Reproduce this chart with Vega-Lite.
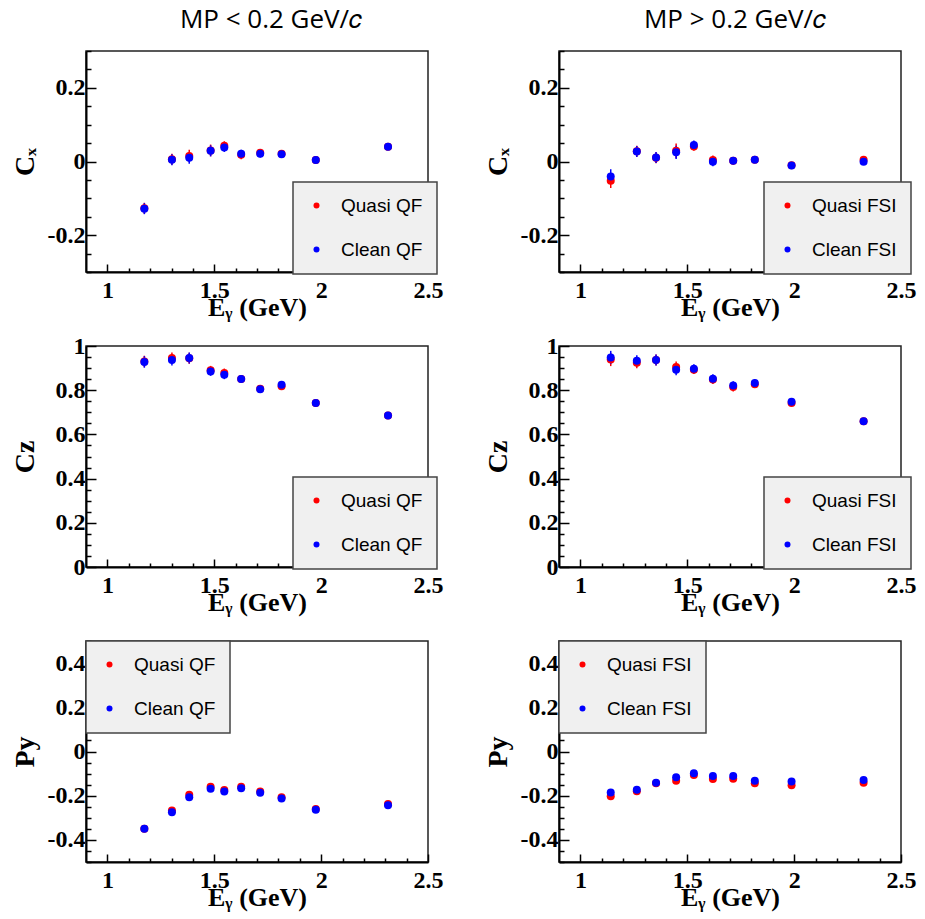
{
  "$schema": "https://vega.github.io/schema/vega-lite/v6.json",
  "autosize": {"type": "none"},
  "padding": {"left": 86, "top": 51, "right": 839, "bottom": 868},
  "background": "white",
  "datasets": {
    "cxL": [
      {"E": 1.173, "v": -0.127, "err": 0.015, "s": "Quasi QF"},
      {"E": 1.302, "v": 0.006, "err": 0.015, "s": "Quasi QF"},
      {"E": 1.383, "v": 0.015, "err": 0.017, "s": "Quasi QF"},
      {"E": 1.483, "v": 0.030, "err": 0.016, "s": "Quasi QF"},
      {"E": 1.547, "v": 0.043, "err": 0.012, "s": "Quasi QF"},
      {"E": 1.626, "v": 0.018, "err": 0.012, "s": "Quasi QF"},
      {"E": 1.715, "v": 0.024, "err": 0.010, "s": "Quasi QF"},
      {"E": 1.815, "v": 0.021, "err": 0.010, "s": "Quasi QF"},
      {"E": 1.975, "v": 0.004, "err": 0.007, "s": "Quasi QF"},
      {"E": 2.313, "v": 0.040, "err": 0.007, "s": "Quasi QF"},
      {"E": 1.173, "v": -0.128, "err": 0.015, "s": "Clean QF"},
      {"E": 1.302, "v": 0.005, "err": 0.015, "s": "Clean QF"},
      {"E": 1.383, "v": 0.010, "err": 0.016, "s": "Clean QF"},
      {"E": 1.483, "v": 0.029, "err": 0.015, "s": "Clean QF"},
      {"E": 1.547, "v": 0.038, "err": 0.012, "s": "Clean QF"},
      {"E": 1.626, "v": 0.021, "err": 0.011, "s": "Clean QF"},
      {"E": 1.715, "v": 0.021, "err": 0.010, "s": "Clean QF"},
      {"E": 1.815, "v": 0.020, "err": 0.010, "s": "Clean QF"},
      {"E": 1.975, "v": 0.004, "err": 0.007, "s": "Clean QF"},
      {"E": 2.313, "v": 0.040, "err": 0.007, "s": "Clean QF"}
    ],
    "cxR": [
      {"E": 1.142, "v": -0.052, "err": 0.020, "s": "Quasi FSI"},
      {"E": 1.264, "v": 0.028, "err": 0.015, "s": "Quasi FSI"},
      {"E": 1.354, "v": 0.010, "err": 0.015, "s": "Quasi FSI"},
      {"E": 1.448, "v": 0.029, "err": 0.020, "s": "Quasi FSI"},
      {"E": 1.531, "v": 0.041, "err": 0.012, "s": "Quasi FSI"},
      {"E": 1.620, "v": 0.004, "err": 0.012, "s": "Quasi FSI"},
      {"E": 1.715, "v": 0.002, "err": 0.010, "s": "Quasi FSI"},
      {"E": 1.816, "v": 0.005, "err": 0.008, "s": "Quasi FSI"},
      {"E": 1.988, "v": -0.010, "err": 0.006, "s": "Quasi FSI"},
      {"E": 2.325, "v": 0.005, "err": 0.006, "s": "Quasi FSI"},
      {"E": 1.142, "v": -0.041, "err": 0.020, "s": "Clean FSI"},
      {"E": 1.264, "v": 0.027, "err": 0.015, "s": "Clean FSI"},
      {"E": 1.354, "v": 0.011, "err": 0.015, "s": "Clean FSI"},
      {"E": 1.448, "v": 0.025, "err": 0.018, "s": "Clean FSI"},
      {"E": 1.531, "v": 0.045, "err": 0.012, "s": "Clean FSI"},
      {"E": 1.620, "v": -0.001, "err": 0.012, "s": "Clean FSI"},
      {"E": 1.715, "v": 0.002, "err": 0.010, "s": "Clean FSI"},
      {"E": 1.816, "v": 0.005, "err": 0.008, "s": "Clean FSI"},
      {"E": 1.988, "v": -0.011, "err": 0.006, "s": "Clean FSI"},
      {"E": 2.325, "v": -0.001, "err": 0.006, "s": "Clean FSI"}
    ],
    "czL": [
      {"E": 1.173, "v": 0.930, "err": 0.026, "s": "Quasi QF"},
      {"E": 1.302, "v": 0.946, "err": 0.025, "s": "Quasi QF"},
      {"E": 1.383, "v": 0.945, "err": 0.025, "s": "Quasi QF"},
      {"E": 1.483, "v": 0.890, "err": 0.020, "s": "Quasi QF"},
      {"E": 1.547, "v": 0.878, "err": 0.020, "s": "Quasi QF"},
      {"E": 1.626, "v": 0.851, "err": 0.017, "s": "Quasi QF"},
      {"E": 1.715, "v": 0.806, "err": 0.015, "s": "Quasi QF"},
      {"E": 1.815, "v": 0.818, "err": 0.015, "s": "Quasi QF"},
      {"E": 1.975, "v": 0.742, "err": 0.012, "s": "Quasi QF"},
      {"E": 2.313, "v": 0.686, "err": 0.008, "s": "Quasi QF"},
      {"E": 1.173, "v": 0.928, "err": 0.026, "s": "Clean QF"},
      {"E": 1.302, "v": 0.937, "err": 0.025, "s": "Clean QF"},
      {"E": 1.383, "v": 0.946, "err": 0.025, "s": "Clean QF"},
      {"E": 1.483, "v": 0.885, "err": 0.020, "s": "Clean QF"},
      {"E": 1.547, "v": 0.870, "err": 0.020, "s": "Clean QF"},
      {"E": 1.626, "v": 0.851, "err": 0.017, "s": "Clean QF"},
      {"E": 1.715, "v": 0.804, "err": 0.015, "s": "Clean QF"},
      {"E": 1.815, "v": 0.825, "err": 0.015, "s": "Clean QF"},
      {"E": 1.975, "v": 0.742, "err": 0.012, "s": "Clean QF"},
      {"E": 2.313, "v": 0.685, "err": 0.008, "s": "Clean QF"}
    ],
    "czR": [
      {"E": 1.142, "v": 0.939, "err": 0.030, "s": "Quasi FSI"},
      {"E": 1.264, "v": 0.924, "err": 0.025, "s": "Quasi FSI"},
      {"E": 1.354, "v": 0.937, "err": 0.025, "s": "Quasi FSI"},
      {"E": 1.448, "v": 0.905, "err": 0.025, "s": "Quasi FSI"},
      {"E": 1.531, "v": 0.893, "err": 0.020, "s": "Quasi FSI"},
      {"E": 1.620, "v": 0.848, "err": 0.020, "s": "Quasi FSI"},
      {"E": 1.715, "v": 0.814, "err": 0.020, "s": "Quasi FSI"},
      {"E": 1.816, "v": 0.827, "err": 0.017, "s": "Quasi FSI"},
      {"E": 1.988, "v": 0.742, "err": 0.012, "s": "Quasi FSI"},
      {"E": 2.325, "v": 0.659, "err": 0.008, "s": "Quasi FSI"},
      {"E": 1.142, "v": 0.948, "err": 0.030, "s": "Clean FSI"},
      {"E": 1.264, "v": 0.933, "err": 0.025, "s": "Clean FSI"},
      {"E": 1.354, "v": 0.937, "err": 0.025, "s": "Clean FSI"},
      {"E": 1.448, "v": 0.893, "err": 0.025, "s": "Clean FSI"},
      {"E": 1.531, "v": 0.897, "err": 0.020, "s": "Clean FSI"},
      {"E": 1.620, "v": 0.852, "err": 0.020, "s": "Clean FSI"},
      {"E": 1.715, "v": 0.821, "err": 0.020, "s": "Clean FSI"},
      {"E": 1.816, "v": 0.833, "err": 0.017, "s": "Clean FSI"},
      {"E": 1.988, "v": 0.748, "err": 0.012, "s": "Clean FSI"},
      {"E": 2.325, "v": 0.659, "err": 0.008, "s": "Clean FSI"}
    ],
    "pyL": [
      {"E": 1.173, "v": -0.350, "err": 0.008, "s": "Quasi QF"},
      {"E": 1.302, "v": -0.267, "err": 0.008, "s": "Quasi QF"},
      {"E": 1.383, "v": -0.196, "err": 0.008, "s": "Quasi QF"},
      {"E": 1.483, "v": -0.160, "err": 0.008, "s": "Quasi QF"},
      {"E": 1.547, "v": -0.174, "err": 0.008, "s": "Quasi QF"},
      {"E": 1.626, "v": -0.160, "err": 0.008, "s": "Quasi QF"},
      {"E": 1.715, "v": -0.181, "err": 0.008, "s": "Quasi QF"},
      {"E": 1.815, "v": -0.207, "err": 0.008, "s": "Quasi QF"},
      {"E": 1.975, "v": -0.260, "err": 0.006, "s": "Quasi QF"},
      {"E": 2.313, "v": -0.237, "err": 0.006, "s": "Quasi QF"},
      {"E": 1.173, "v": -0.350, "err": 0.008, "s": "Clean QF"},
      {"E": 1.302, "v": -0.275, "err": 0.008, "s": "Clean QF"},
      {"E": 1.383, "v": -0.207, "err": 0.008, "s": "Clean QF"},
      {"E": 1.483, "v": -0.169, "err": 0.008, "s": "Clean QF"},
      {"E": 1.547, "v": -0.181, "err": 0.008, "s": "Clean QF"},
      {"E": 1.626, "v": -0.166, "err": 0.008, "s": "Clean QF"},
      {"E": 1.715, "v": -0.187, "err": 0.008, "s": "Clean QF"},
      {"E": 1.815, "v": -0.213, "err": 0.008, "s": "Clean QF"},
      {"E": 1.975, "v": -0.264, "err": 0.006, "s": "Clean QF"},
      {"E": 2.313, "v": -0.243, "err": 0.006, "s": "Clean QF"}
    ],
    "pyR": [
      {"E": 1.142, "v": -0.203, "err": 0.015, "s": "Quasi FSI"},
      {"E": 1.264, "v": -0.180, "err": 0.012, "s": "Quasi FSI"},
      {"E": 1.354, "v": -0.144, "err": 0.010, "s": "Quasi FSI"},
      {"E": 1.448, "v": -0.132, "err": 0.015, "s": "Quasi FSI"},
      {"E": 1.531, "v": -0.106, "err": 0.010, "s": "Quasi FSI"},
      {"E": 1.620, "v": -0.124, "err": 0.010, "s": "Quasi FSI"},
      {"E": 1.715, "v": -0.123, "err": 0.010, "s": "Quasi FSI"},
      {"E": 1.816, "v": -0.144, "err": 0.010, "s": "Quasi FSI"},
      {"E": 1.988, "v": -0.153, "err": 0.008, "s": "Quasi FSI"},
      {"E": 2.325, "v": -0.141, "err": 0.008, "s": "Quasi FSI"},
      {"E": 1.142, "v": -0.185, "err": 0.015, "s": "Clean FSI"},
      {"E": 1.264, "v": -0.173, "err": 0.012, "s": "Clean FSI"},
      {"E": 1.354, "v": -0.141, "err": 0.010, "s": "Clean FSI"},
      {"E": 1.448, "v": -0.117, "err": 0.015, "s": "Clean FSI"},
      {"E": 1.531, "v": -0.098, "err": 0.010, "s": "Clean FSI"},
      {"E": 1.620, "v": -0.111, "err": 0.010, "s": "Clean FSI"},
      {"E": 1.715, "v": -0.111, "err": 0.010, "s": "Clean FSI"},
      {"E": 1.816, "v": -0.132, "err": 0.010, "s": "Clean FSI"},
      {"E": 1.988, "v": -0.136, "err": 0.008, "s": "Clean FSI"},
      {"E": 2.325, "v": -0.129, "err": 0.008, "s": "Clean FSI"}
    ]
  },
  "columns": 2,
  "spacing": {"row": 74, "column": 131},
  "bounds": "flush",
  "resolve": {"scale": {"x": "independent", "y": "independent", "color": "independent"}, "legend": {"color": "independent"}},
  "concat": [
    {
      "width": 342, "height": 221,
      "data": {"name": "cxL"},
      "title": {"text": "MP < 0.2 GeV/𝑐", "dx": 14},
      "encoding": {
        "x": {"field": "E", "type": "quantitative", "scale": {"domain": [0.9, 2.5], "nice": false, "zero": false},
          "axis": {"title": "Eᵧ (GeV)", "values": [1, 1.1, 1.2, 1.3, 1.4, 1.5, 1.6, 1.7, 1.8, 1.9, 2, 2.1, 2.2, 2.3, 2.4, 2.5],
            "labelExpr": "indexof([1,1.5,2,2.5], datum.value) >= 0 ? '' + datum.value : ''",
            "tickSize": {"condition": {"test": "indexof([1,1.5,2,2.5], datum.value) >= 0", "value": -8}, "value": -4},
            "labelPadding": 14, "titleX": 171, "titleY": 43, "titleBaseline": "alphabetic"}},
        "y": {"field": "v", "type": "quantitative", "scale": {"domain": [-0.3, 0.3], "nice": false, "zero": false},
          "axis": {"title": "Cₓ", "titleFontSize": 28, "values": [-0.3, -0.25, -0.2, -0.15, -0.1, -0.05, 0, 0.05, 0.1, 0.15, 0.2, 0.25, 0.3],
            "labelExpr": "indexof([-0.2,0,0.2], datum.value) >= 0 ? '' + datum.value : ''",
            "tickSize": {"condition": {"test": "indexof([-0.2,0,0.2], datum.value) >= 0", "value": -10}, "value": -5},
            "labelPadding": 11, "titleX": -53, "titleY": 110.5, "titleBaseline": "alphabetic"}},
        "color": {"field": "s", "type": "nominal", "scale": {"domain": ["Quasi QF", "Clean QF"], "range": ["#ff0000", "#0000ff"]},
          "legend": {"orient": "none", "legendX": 207, "legendY": 131}}
      },
      "layer": [
        {"mark": {"type": "errorbar", "ticks": false, "thickness": 1.5}, "encoding": {"yError": {"field": "err"}}},
        {"mark": {"type": "circle", "size": 64, "opacity": 1}}
      ]
    },
    {
      "width": 342, "height": 221,
      "data": {"name": "cxR"},
      "title": {"text": "MP > 0.2 GeV/𝑐", "dx": 5},
      "encoding": {
        "x": {"field": "E", "type": "quantitative", "scale": {"domain": [0.9, 2.5], "nice": false, "zero": false},
          "axis": {"title": "Eᵧ (GeV)", "values": [1, 1.1, 1.2, 1.3, 1.4, 1.5, 1.6, 1.7, 1.8, 1.9, 2, 2.1, 2.2, 2.3, 2.4, 2.5],
            "labelExpr": "indexof([1,1.5,2,2.5], datum.value) >= 0 ? '' + datum.value : ''",
            "tickSize": {"condition": {"test": "indexof([1,1.5,2,2.5], datum.value) >= 0", "value": -8}, "value": -4},
            "labelPadding": 14, "titleX": 171, "titleY": 43, "titleBaseline": "alphabetic"}},
        "y": {"field": "v", "type": "quantitative", "scale": {"domain": [-0.3, 0.3], "nice": false, "zero": false},
          "axis": {"title": "Cₓ", "titleFontSize": 28, "values": [-0.3, -0.25, -0.2, -0.15, -0.1, -0.05, 0, 0.05, 0.1, 0.15, 0.2, 0.25, 0.3],
            "labelExpr": "indexof([-0.2,0,0.2], datum.value) >= 0 ? '' + datum.value : ''",
            "tickSize": {"condition": {"test": "indexof([-0.2,0,0.2], datum.value) >= 0", "value": -10}, "value": -5},
            "labelPadding": 11, "titleX": -53, "titleY": 110.5, "titleBaseline": "alphabetic"}},
        "color": {"field": "s", "type": "nominal", "scale": {"domain": ["Quasi FSI", "Clean FSI"], "range": ["#ff0000", "#0000ff"]},
          "legend": {"orient": "none", "legendX": 205, "legendY": 131}}
      },
      "layer": [
        {"mark": {"type": "errorbar", "ticks": false, "thickness": 1.5}, "encoding": {"yError": {"field": "err"}}},
        {"mark": {"type": "circle", "size": 64, "opacity": 1}}
      ]
    },
    {
      "width": 342, "height": 221,
      "data": {"name": "czL"},
      "encoding": {
        "x": {"field": "E", "type": "quantitative", "scale": {"domain": [0.9, 2.5], "nice": false, "zero": false},
          "axis": {"title": "Eᵧ (GeV)", "values": [1, 1.1, 1.2, 1.3, 1.4, 1.5, 1.6, 1.7, 1.8, 1.9, 2, 2.1, 2.2, 2.3, 2.4, 2.5],
            "labelExpr": "indexof([1,1.5,2,2.5], datum.value) >= 0 ? '' + datum.value : ''",
            "tickSize": {"condition": {"test": "indexof([1,1.5,2,2.5], datum.value) >= 0", "value": -8}, "value": -4},
            "labelPadding": 14, "titleX": 171, "titleY": 43, "titleBaseline": "alphabetic"}},
        "y": {"field": "v", "type": "quantitative", "scale": {"domain": [0, 1], "nice": false, "zero": false},
          "axis": {"title": "Cz", "titleFontSize": 28, "values": [0, 0.05, 0.1, 0.15, 0.2, 0.25, 0.3, 0.35, 0.4, 0.45, 0.5, 0.55, 0.6, 0.65, 0.7, 0.75, 0.8, 0.85, 0.9, 0.95, 1],
            "labelExpr": "indexof([0,0.2,0.4,0.6,0.8,1], datum.value) >= 0 ? '' + datum.value : ''",
            "tickSize": {"condition": {"test": "indexof([0,0.2,0.4,0.6,0.8,1], datum.value) >= 0", "value": -10}, "value": -5},
            "labelPadding": 11, "titleX": -53, "titleY": 110.5, "titleBaseline": "alphabetic"}},
        "color": {"field": "s", "type": "nominal", "scale": {"domain": ["Quasi QF", "Clean QF"], "range": ["#ff0000", "#0000ff"]},
          "legend": {"orient": "none", "legendX": 207, "legendY": 131}}
      },
      "layer": [
        {"mark": {"type": "errorbar", "ticks": false, "thickness": 1.5}, "encoding": {"yError": {"field": "err"}}},
        {"mark": {"type": "circle", "size": 64, "opacity": 1}}
      ]
    },
    {
      "width": 342, "height": 221,
      "data": {"name": "czR"},
      "encoding": {
        "x": {"field": "E", "type": "quantitative", "scale": {"domain": [0.9, 2.5], "nice": false, "zero": false},
          "axis": {"title": "Eᵧ (GeV)", "values": [1, 1.1, 1.2, 1.3, 1.4, 1.5, 1.6, 1.7, 1.8, 1.9, 2, 2.1, 2.2, 2.3, 2.4, 2.5],
            "labelExpr": "indexof([1,1.5,2,2.5], datum.value) >= 0 ? '' + datum.value : ''",
            "tickSize": {"condition": {"test": "indexof([1,1.5,2,2.5], datum.value) >= 0", "value": -8}, "value": -4},
            "labelPadding": 14, "titleX": 171, "titleY": 43, "titleBaseline": "alphabetic"}},
        "y": {"field": "v", "type": "quantitative", "scale": {"domain": [0, 1], "nice": false, "zero": false},
          "axis": {"title": "Cz", "titleFontSize": 28, "values": [0, 0.05, 0.1, 0.15, 0.2, 0.25, 0.3, 0.35, 0.4, 0.45, 0.5, 0.55, 0.6, 0.65, 0.7, 0.75, 0.8, 0.85, 0.9, 0.95, 1],
            "labelExpr": "indexof([0,0.2,0.4,0.6,0.8,1], datum.value) >= 0 ? '' + datum.value : ''",
            "tickSize": {"condition": {"test": "indexof([0,0.2,0.4,0.6,0.8,1], datum.value) >= 0", "value": -10}, "value": -5},
            "labelPadding": 11, "titleX": -53, "titleY": 110.5, "titleBaseline": "alphabetic"}},
        "color": {"field": "s", "type": "nominal", "scale": {"domain": ["Quasi FSI", "Clean FSI"], "range": ["#ff0000", "#0000ff"]},
          "legend": {"orient": "none", "legendX": 205, "legendY": 131}}
      },
      "layer": [
        {"mark": {"type": "errorbar", "ticks": false, "thickness": 1.5}, "encoding": {"yError": {"field": "err"}}},
        {"mark": {"type": "circle", "size": 64, "opacity": 1}}
      ]
    },
    {
      "width": 342, "height": 221,
      "data": {"name": "pyL"},
      "encoding": {
        "x": {"field": "E", "type": "quantitative", "scale": {"domain": [0.9, 2.5], "nice": false, "zero": false},
          "axis": {"title": "Eᵧ (GeV)", "values": [1, 1.1, 1.2, 1.3, 1.4, 1.5, 1.6, 1.7, 1.8, 1.9, 2, 2.1, 2.2, 2.3, 2.4, 2.5],
            "labelExpr": "indexof([1,1.5,2,2.5], datum.value) >= 0 ? '' + datum.value : ''",
            "tickSize": {"condition": {"test": "indexof([1,1.5,2,2.5], datum.value) >= 0", "value": -8}, "value": -4},
            "labelPadding": 14, "titleX": 171, "titleY": 43, "titleBaseline": "alphabetic"}},
        "y": {"field": "v", "type": "quantitative", "scale": {"domain": [-0.5, 0.5], "nice": false, "zero": false},
          "axis": {"title": "Py", "titleFontSize": 28, "values": [-0.5, -0.45, -0.4, -0.35, -0.3, -0.25, -0.2, -0.15, -0.1, -0.05, 0, 0.05, 0.1, 0.15, 0.2, 0.25, 0.3, 0.35, 0.4, 0.45, 0.5],
            "labelExpr": "indexof([-0.4,-0.2,0,0.2,0.4], datum.value) >= 0 ? '' + datum.value : ''",
            "tickSize": {"condition": {"test": "indexof([-0.4,-0.2,0,0.2,0.4], datum.value) >= 0", "value": -10}, "value": -5},
            "labelPadding": 11, "titleX": -53, "titleY": 110.5, "titleBaseline": "alphabetic"}},
        "color": {"field": "s", "type": "nominal", "scale": {"domain": ["Quasi QF", "Clean QF"], "range": ["#ff0000", "#0000ff"]},
          "legend": {"orient": "none", "legendX": 0, "legendY": 0}}
      },
      "layer": [
        {"mark": {"type": "errorbar", "ticks": false, "thickness": 1.5}, "encoding": {"yError": {"field": "err"}}},
        {"mark": {"type": "circle", "size": 64, "opacity": 1}}
      ]
    },
    {
      "width": 342, "height": 221,
      "data": {"name": "pyR"},
      "encoding": {
        "x": {"field": "E", "type": "quantitative", "scale": {"domain": [0.9, 2.5], "nice": false, "zero": false},
          "axis": {"title": "Eᵧ (GeV)", "values": [1, 1.1, 1.2, 1.3, 1.4, 1.5, 1.6, 1.7, 1.8, 1.9, 2, 2.1, 2.2, 2.3, 2.4, 2.5],
            "labelExpr": "indexof([1,1.5,2,2.5], datum.value) >= 0 ? '' + datum.value : ''",
            "tickSize": {"condition": {"test": "indexof([1,1.5,2,2.5], datum.value) >= 0", "value": -8}, "value": -4},
            "labelPadding": 14, "titleX": 171, "titleY": 43, "titleBaseline": "alphabetic"}},
        "y": {"field": "v", "type": "quantitative", "scale": {"domain": [-0.5, 0.5], "nice": false, "zero": false},
          "axis": {"title": "Py", "titleFontSize": 28, "values": [-0.5, -0.45, -0.4, -0.35, -0.3, -0.25, -0.2, -0.15, -0.1, -0.05, 0, 0.05, 0.1, 0.15, 0.2, 0.25, 0.3, 0.35, 0.4, 0.45, 0.5],
            "labelExpr": "indexof([-0.4,-0.2,0,0.2,0.4], datum.value) >= 0 ? '' + datum.value : ''",
            "tickSize": {"condition": {"test": "indexof([-0.4,-0.2,0,0.2,0.4], datum.value) >= 0", "value": -10}, "value": -5},
            "labelPadding": 11, "titleX": -53, "titleY": 110.5, "titleBaseline": "alphabetic"}},
        "color": {"field": "s", "type": "nominal", "scale": {"domain": ["Quasi FSI", "Clean FSI"], "range": ["#ff0000", "#0000ff"]},
          "legend": {"orient": "none", "legendX": 0, "legendY": 0}}
      },
      "layer": [
        {"mark": {"type": "errorbar", "ticks": false, "thickness": 1.5}, "encoding": {"yError": {"field": "err"}}},
        {"mark": {"type": "circle", "size": 64, "opacity": 1}}
      ]
    }
  ],
  "config": {
    "view": {"stroke": "#222", "strokeWidth": 1.5},
    "title": {"font": "Open Sans", "fontSize": 26, "fontWeight": "normal", "color": "black", "anchor": "middle", "frame": "group", "offset": 6},
    "axis": {
      "grid": false,
      "labelFont": "Liberation Serif", "labelFontWeight": "bold", "labelFontSize": 24, "labelColor": "black",
      "labelFlush": false, "labelOverlap": false, "labelBound": false,
      "titleFont": "Liberation Serif", "titleFontWeight": "bold", "titleFontSize": 26, "titleColor": "black",
      "domainColor": "black", "domainWidth": 2, "tickColor": "black", "tickWidth": 1.5
    },
    "legend": {
      "title": null, "fillColor": "#f0f0f0", "strokeColor": "#444", "strokeWidth": 1.5, "padding": 14, "rowPadding": 24,
      "labelOffset": 15, "symbolType": "circle", "symbolSize": 36, "symbolStrokeWidth": 0,
      "labelFont": "Liberation Sans", "labelFontSize": 19, "labelColor": "black", "cornerRadius": 0
    }
  }
}
